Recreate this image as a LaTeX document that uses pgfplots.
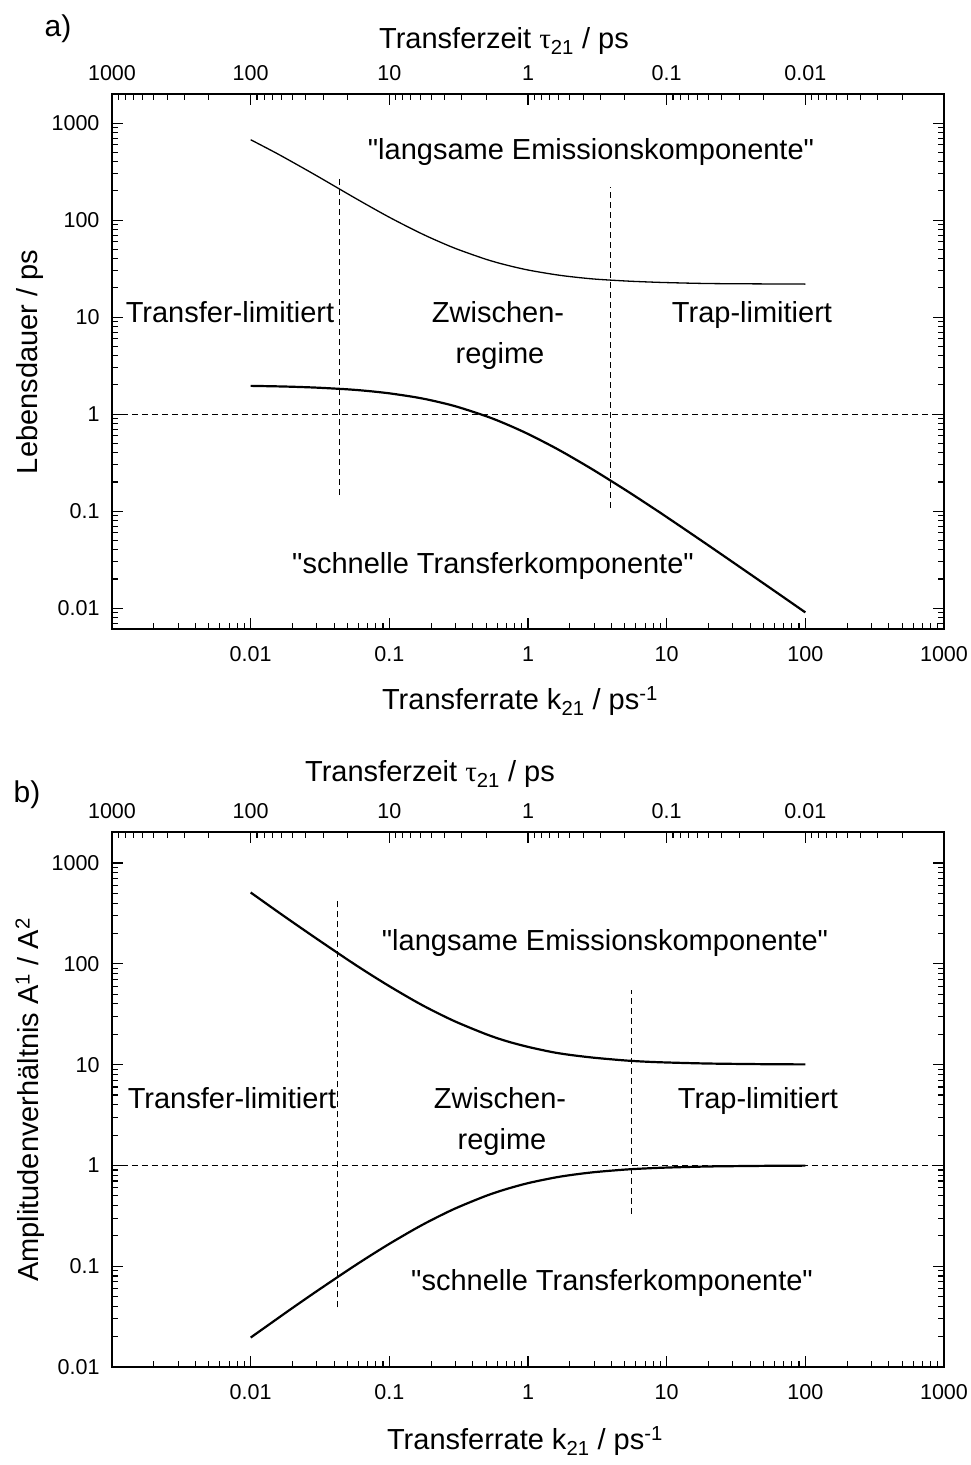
\documentclass[border=0pt]{standalone}
\usepackage{fontspec}
\setmainfont{Liberation Sans}
\newfontfamily\symf{Liberation Serif}
\usepackage{pgfplots}
\pgfplotsset{compat=1.18}
\newcommand{\lblf}{\fontsize{29}{35}\selectfont}
\newcommand{\tk}{\fontsize{21.5}{26}\selectfont}
\newcommand{\q}{\textquotedbl}
\pgfplotstableread{
k slow fast
0.01 674 1.957
0.015 498 1.936
0.02 397 1.916
0.03 286 1.876
0.05 187 1.802
0.07 142 1.733
0.1 107 1.639
0.15 79.4 1.504
0.2 65.3 1.389
0.3 51.0 1.205
0.5 39.4 0.952
0.7 34.4 0.787
1 30.6 0.625
1.5 27.7 0.465
2 26.2 0.370
3 24.7 0.263
5 23.6 0.1667
7 23.1 0.122
10 22.7 0.0870
20 22.2 0.0444
50 22.0 0.0180
100 21.9 0.00905
}\tabA
\pgfplotstableread{
k slow fast
0.01 510 0.0196
0.015 343 0.0291
0.02 260 0.0385
0.03 177 0.0566
0.05 110 0.0909
0.07 81.4 0.1228
0.1 60 0.1667
0.15 43.3 0.2308
0.2 35 0.2857
0.3 26.7 0.375
0.5 20 0.5
0.7 17.1 0.583
1 15 0.667
1.5 13.3 0.75
2 12.5 0.8
3 11.7 0.857
5 11 0.909
7 10.7 0.933
10 10.5 0.952
20 10.25 0.976
50 10.1 0.990
100 10.05 0.995
}\tabB
\pgfplotsset{
  ktbase/.style={scale only axis, width=832pt, height=535pt,
    xmin=0.001, xmax=1000, anchor=south west,
    tick align=inside, major tick length=11pt, minor tick length=6pt,
    every tick/.style={black, line width=1.1pt},
    axis line style={line width=1.6pt},
    tick label style={font=\tk},
    clip=false},
  ktmain/.style={ktbase,
    xtick={0.01,0.1,1,10,100,1000}, xticklabels={0.01,0.1,1,10,100,1000},
    minor xtick={0.002,0.003,0.004,0.005,0.006,0.007,0.008,0.009,0.02,0.03,0.04,0.05,0.06,0.07,0.08,0.09,0.2,0.3,0.4,0.5,0.6,0.7,0.8,0.9,2,3,4,5,6,7,8,9,20,30,40,50,60,70,80,90,200,300,400,500,600,700,800,900},
    xtick pos=left,
    ytick={0.01,0.1,1,10,100,1000}, yticklabels={0.01,0.1,1,10,100,1000},
    minor ytick={0.007,0.008,0.009,0.02,0.03,0.04,0.05,0.06,0.07,0.08,0.09,0.2,0.3,0.4,0.5,0.6,0.7,0.8,0.9,2,3,4,5,6,7,8,9,20,30,40,50,60,70,80,90,200,300,400,500,600,700,800,900},
    ytick pos=both, yticklabel pos=left,
    xticklabel style={yshift=-14pt}, yticklabel style={xshift=-9pt}},
  kttop/.style={ktbase, x dir=reverse, axis x line*=top, axis y line=none,
    xtick={1000,100,10,1,0.1,0.01}, xticklabels={1000,100,10,1,0.1,0.01},
    minor xtick={0.002,0.003,0.004,0.005,0.006,0.007,0.008,0.009,0.02,0.03,0.04,0.05,0.06,0.07,0.08,0.09,0.2,0.3,0.4,0.5,0.6,0.7,0.8,0.9,2,3,4,5,6,7,8,9,20,30,40,50,60,70,80,90,200,300,400,500,600,700,800,900},
    xticklabel style={yshift=10pt}},
  kcurve/.style={black, line width=2.2pt},
  kdsh/.style={black, line width=0.9pt, dash pattern=on 6pt off 4pt},
}
\begin{document}
\begin{tikzpicture}
\useasboundingbox (0pt,0pt) rectangle (971pt,-1465pt);
% ---------- panel a
\begin{loglogaxis}[ktmain, at={(112pt,-629pt)}, ymin=0.0061, ymax=1995]
\addplot[kdsh] coordinates {(0.001,1) (1000,1)};
\addplot[kdsh] coordinates {(0.0437,0.146) (0.0437,280)};
\addplot[kdsh] coordinates {(3.95,0.109) (3.95,220)};
\addplot[black, line width=1.3pt, smooth] table[x=k, y=slow] {\tabA};
\addplot[kcurve, smooth] table[x=k, y=fast] {\tabA};
\end{loglogaxis}
\begin{loglogaxis}[kttop, at={(112pt,-629pt)}, ymin=0.0061, ymax=1995]
\addplot[draw=none] coordinates {(1,1)};
\end{loglogaxis}
% ---------- panel b
\begin{loglogaxis}[ktmain, at={(112pt,-1367pt)}, ymin=0.01, ymax=2030]
\addplot[kdsh] coordinates {(0.001,1) (1000,1)};
\addplot[kdsh] coordinates {(0.0425,0.039) (0.0425,450)};
\addplot[kdsh] coordinates {(5.6,0.333) (5.6,55)};
\addplot[kcurve, smooth] table[x=k, y=slow] {\tabB};
\addplot[kcurve, smooth] table[x=k, y=fast] {\tabB};
\end{loglogaxis}
\begin{loglogaxis}[kttop, at={(112pt,-1367pt)}, ymin=0.01, ymax=2030]
\addplot[draw=none] coordinates {(1,1)};
\end{loglogaxis}
% ---------- texts
\node[font=\fontsize{30}{36}\selectfont] at (58pt,-29pt) {a)};
\node[font=\fontsize{30}{36}\selectfont] at (27pt,-795pt) {b)};
\node[font=\lblf] at (504pt,-41pt) {Transferzeit {\symf τ}\textsubscript{21} / ps};
\node[font=\lblf] at (520pt,-701pt) {Transferrate k\textsubscript{21} / ps\textsuperscript{-1}};
\node[font=\lblf, rotate=90] at (30pt,-362pt) {Lebensdauer / ps};
\node[font=\lblf, anchor=base] at (591pt,-159pt) {\q langsame Emissionskomponente\q};
\node[font=\lblf, anchor=base] at (230pt,-322pt) {Transfer-limitiert};
\node[font=\lblf, anchor=base] at (498pt,-322pt) {Zwischen-};
\node[font=\lblf, anchor=base] at (500pt,-363pt) {regime};
\node[font=\lblf, anchor=base] at (752pt,-322pt) {Trap-limitiert};
\node[font=\lblf, anchor=base] at (493pt,-573pt) {\q schnelle Transferkomponente\q};
\node[font=\lblf] at (430pt,-774pt) {Transferzeit {\symf τ}\textsubscript{21} / ps};
\node[font=\lblf] at (525pt,-1441pt) {Transferrate k\textsubscript{21} / ps\textsuperscript{-1}};
\node[font=\lblf, rotate=90] at (30pt,-1100pt) {Amplitudenverhältnis A\textsuperscript{1} / A\textsuperscript{2}};
\node[font=\lblf, anchor=base] at (605pt,-950pt) {\q langsame Emissionskomponente\q};
\node[font=\lblf, anchor=base] at (232pt,-1108pt) {Transfer-limitiert};
\node[font=\lblf, anchor=base] at (500pt,-1108pt) {Zwischen-};
\node[font=\lblf, anchor=base] at (502pt,-1149pt) {regime};
\node[font=\lblf, anchor=base] at (758pt,-1108pt) {Trap-limitiert};
\node[font=\lblf, anchor=base] at (612pt,-1290pt) {\q schnelle Transferkomponente\q};
\end{tikzpicture}
\end{document}
